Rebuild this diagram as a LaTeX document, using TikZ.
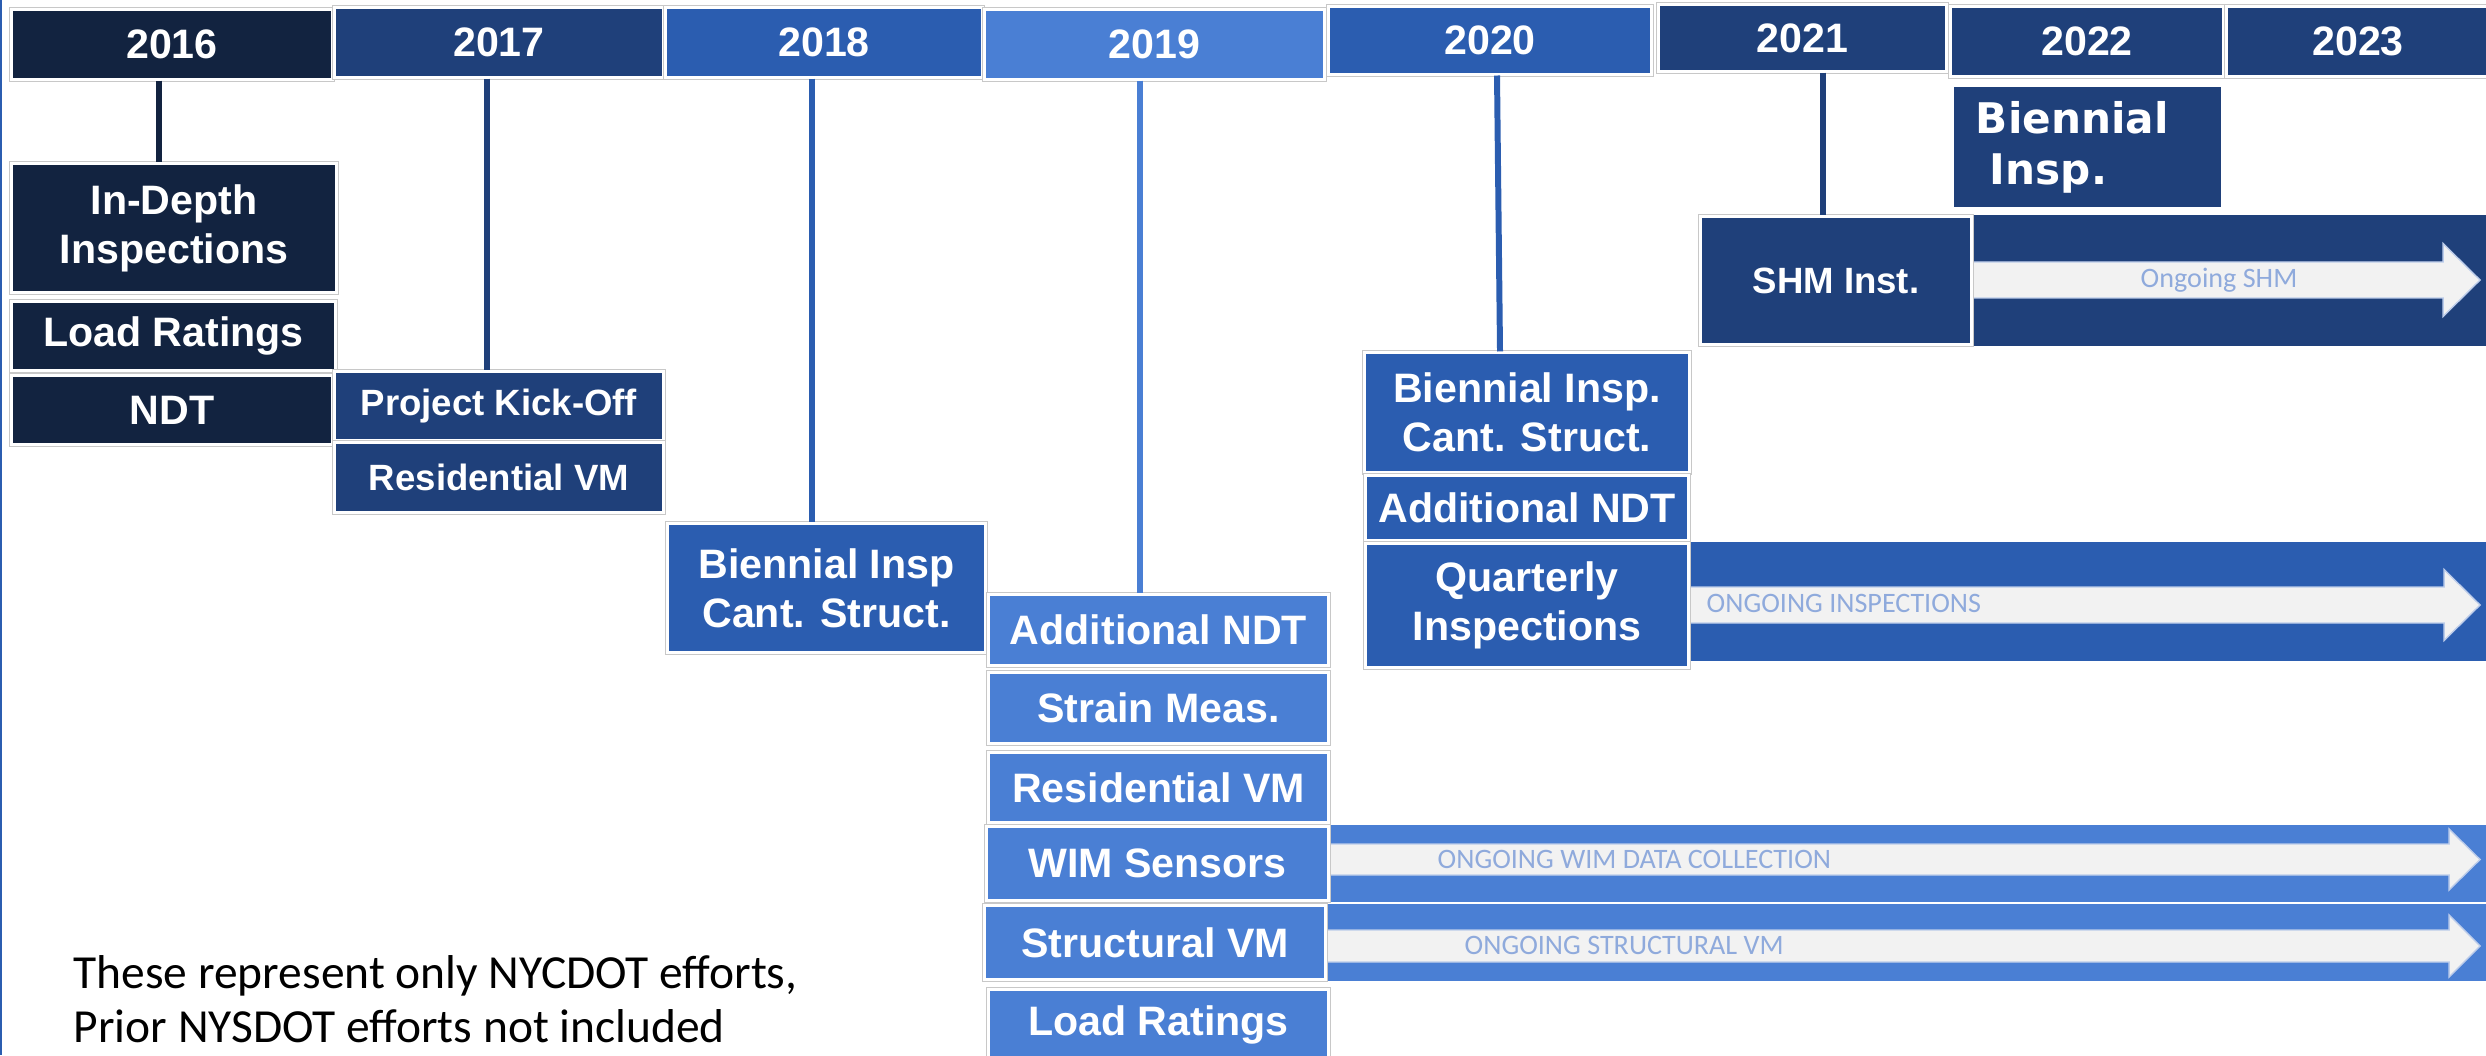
\documentclass[tikz,border=0pt]{standalone}
\usepackage{fontspec}
\setmainfont{Liberation Sans}
\newfontfamily\notefont{Carlito}
\newfontfamily\widefont{DejaVu Sans}
\definecolor{navyA}{RGB}{18,35,64}
\definecolor{navyB}{RGB}{31,64,122}
\definecolor{blueC}{RGB}{43,93,176}
\definecolor{blueD}{RGB}{74,127,212}
\definecolor{rimgray}{RGB}{200,200,200}
\definecolor{shaftgray}{RGB}{242,242,242}
\definecolor{ongoingblue}{RGB}{143,170,220}
\tikzset{
    every node/.style={inner sep=0pt, text=white, align=center,
    	font=\bfseries\fontsize{11.7}{14}\selectfont}
}
\tikzset{
    box/.style={rectangle, fill=#1, draw=white, line width=0.85pt,
    	preaction={draw=rimgray, line width=1.45pt}},
    yearbox/.style={box=#1, minimum height=0.69cm},
    small/.style={font=\bfseries\fontsize{10.4}{12.5}\selectfont},
    stem/.style={draw=#1, line width=1.7pt},
    shaft/.style={fill=shaftgray, draw=ongoingblue!60, line width=0.4pt},
    ongoing/.style={text=ongoingblue, font=\notefont\fontsize{8}{9}\selectfont}
}
\pgfdeclarelayer{background}
\pgfsetlayers{background,main}

\begin{document}
\begin{tikzpicture}[x=0.01cm, y=-0.01cm]
	\useasboundingbox (0,0) rectangle (2486,1055);
	\clip (0,0) rectangle (2486,1055);
	\draw[blueC, line width=0.02cm] (1,0) -- (1,1055);

	% year bar
	\node (y2016) [yearbox=navyA, minimum width=3.20cm] at (172,44.5) {2016};
	\node (y2017) [yearbox=navyB, minimum width=3.28cm] at (499,42.5) {2017};
	\node (y2018) [yearbox=blueC, minimum width=3.16cm] at (824,42.5) {2018};
	\node (y2019) [yearbox=blueD, minimum width=3.39cm] at (1154.5,44.5) {2019};
	\node (y2020) [yearbox=blueC, minimum width=3.22cm, minimum height=0.67cm] at (1490,40.5) {2020};
	\node (y2021) [yearbox=navyB, minimum width=2.87cm, minimum height=0.66cm] at (1802.5,38) {2021};
	\node (y2022) [yearbox=navyB, minimum width=2.72cm] at (2087,41.5) {2022};
	\node (y2023) [yearbox=navyB, minimum width=2.62cm] at (2358,41.5) {2023};

	% 2016
	\node (indepth) [box=navyA, minimum width=3.24cm, minimum height=1.28cm] at (174,228) {In-Depth\\Inspections};
	\node (load16) [box=navyA, minimum width=3.23cm, minimum height=0.68cm] at (173.5,336) {Load Ratings};
	\node (ndt16) [box=navyA, minimum width=3.20cm, minimum height=0.68cm] at (172,410) {NDT};
	% 2017
	\node (kickoff) [box=navyB, small, minimum width=3.28cm, minimum height=0.68cm] at (499,406) {Project Kick-Off};
	\node (resvm17) [box=navyB, small, minimum width=3.28cm, minimum height=0.69cm] at (499,477.5) {Residential VM};
	% 2018
	\node (bien18) [box=blueC, minimum width=3.17cm, minimum height=1.28cm] at (826.5,588) {Biennial Insp\\Cant. Struct.};
	% 2019
	\node (ndt19) [box=blueD, minimum width=3.39cm, minimum height=0.70cm] at (1158.5,630) {Additional NDT};
	\node (strain) [box=blueD, minimum width=3.39cm, minimum height=0.70cm] at (1158.5,708) {Strain Meas.};
	\node (resvm19) [box=blueD, minimum width=3.39cm, minimum height=0.69cm] at (1158.5,787.5) {Residential VM};
	\node (wim) [box=blueD, minimum width=3.41cm, minimum height=0.73cm] at (1157.5,863.5) {WIM Sensors};
	\node (structvm) [box=blueD, minimum width=3.40cm, minimum height=0.73cm] at (1155,942.5) {Structural VM};
	\node (load19) [box=blueD, minimum width=3.39cm, minimum height=0.70cm] at (1158.5,1025) {Load Ratings};
	% 2020
	\node (bien20) [box=blueC, minimum width=3.24cm, minimum height=1.19cm] at (1527,412.5) {Biennial Insp.\\Cant. Struct.};
	\node (ndt20) [box=blueC, minimum width=3.22cm, minimum height=0.64cm] at (1527,508) {Additional NDT};
	\node (quarterly) [box=blueC, minimum width=3.22cm, minimum height=1.23cm] at (1527,605.5) {Quarterly\\Inspections};
	% 2021 / 2022
	\node (shm) [box=navyB, small, minimum width=2.70cm, minimum height=1.27cm] at (1836,280.5) {SHM Inst.};
	\node (bien22) [fill=navyB, minimum width=2.67cm, minimum height=1.2cm, text width=2.23cm, align=left,
		font=\widefont\bfseries\fontsize{12}{14.5}\selectfont] at (2087.5,147) {Biennial\\\hspace*{0.14cm}Insp.};

	\draw[stem=navyA] (y2016.south -| 159,0) -- (indepth.north -| 159,0);
	\draw[stem=navyB] (y2017.south -| 487,0) -- (kickoff.north -| 487,0);
	\draw[stem=blueC] (y2018.south -| 812,0) -- (bien18.north -| 812,0);
	\draw[stem=blueD] (y2019.south -| 1140,0) -- (ndt19.north -| 1140,0);
	\draw[stem=blueC] (y2020.south -| 1497,0) -- (bien20.north -| 1500,0);
	\draw[stem=navyB] (y2021.south -| 1823,0) -- (shm.north -| 1823,0);

	% ongoing bands
	\begin{pgfonlayer}{background}
		\fill[navyB] (shm.north east) rectangle (shm.south -| 2500,0);
		\fill[blueC] (quarterly.north east) rectangle (2500,661);
		\fill[blueD] (wim.north east) rectangle (wim.south -| 2500,0);
		\fill[blueD] (structvm.north east) rectangle (structvm.south -| 2500,0);
		\fill[shaft] (shm.east |- 0,262) -- (2443,262) -- (2443,243.5) -- (2480,280)
			-- (2443,316.5) -- (2443,298) -- (shm.east |- 0,298) -- cycle;
		\fill[shaft] (quarterly.east |- 0,587) -- (2444,587) -- (2444,569.5) -- (2480,605)
			-- (2444,640.5) -- (2444,623) -- (quarterly.east |- 0,623) -- cycle;
		\fill[shaft] (wim.east |- 0,844) -- (2449,844) -- (2449,829) -- (2480,859.5)
			-- (2449,890) -- (2449,875) -- (wim.east |- 0,875) -- cycle;
		\fill[shaft] (structvm.east |- 0,930) -- (2449,930) -- (2449,915) -- (2480,946)
			-- (2449,977) -- (2449,962) -- (structvm.east |- 0,962) -- cycle;
	\end{pgfonlayer}
	\node[ongoing] (shmlabel) at (2219,280) {Ongoing SHM};
	\node[ongoing, anchor=west] (insplabel) at (1706,603) {ONGOING INSPECTIONS};
	\node[ongoing, anchor=west] (wimlabel) at (1437,859) {ONGOING WIM DATA COLLECTION};
	\node[ongoing, anchor=west] (structlabel) at (1464,945) {ONGOING STRUCTURAL VM};

	\node (note) [text=black, align=left, anchor=north west,
		font=\notefont\fontsize{13.5}{15.4}\selectfont] at (73,955)
		{These represent only NYCDOT efforts,\\Prior NYSDOT efforts not included};
\end{tikzpicture}
\end{document}
